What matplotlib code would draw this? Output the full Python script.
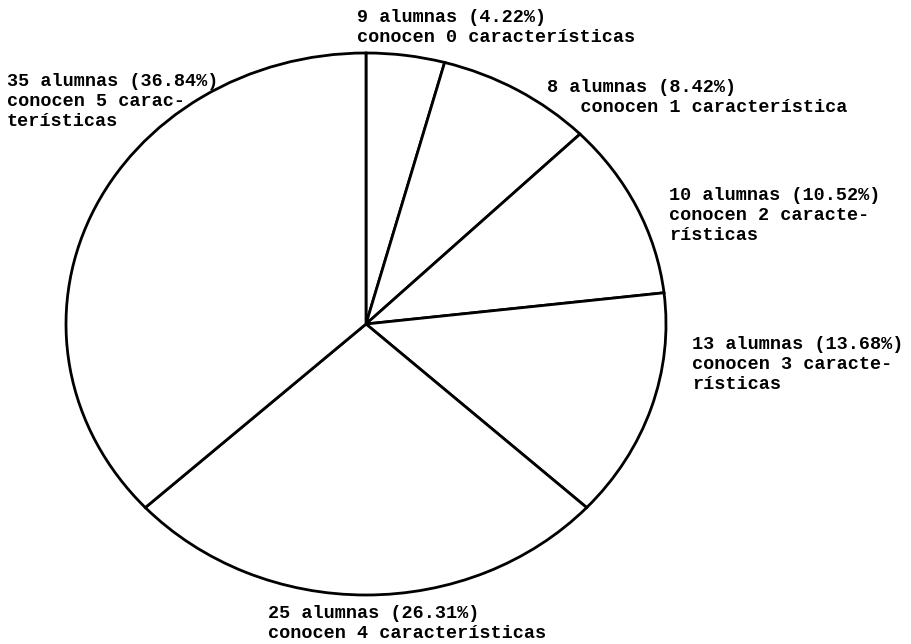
import matplotlib.pyplot as plt

# conocimiento de caracteristicas (0..5)
alumnas = [9, 8, 10, 13, 25, 35]
porcentajes = [4.22, 8.42, 10.52, 13.68, 26.31, 36.84]
etiquetas = [
    "9 alumnas (4.22%)\nconocen 0 características",
    "8 alumnas (8.42%)\n   conocen 1 característica",
    "10 alumnas (10.52%)\nconocen 2 caracte-\nrísticas",
    "13 alumnas (13.68%)\nconocen 3 caracte-\nrísticas",
    "25 alumnas (26.31%)\nconocen 4 características",
    "35 alumnas (36.84%)\nconocen 5 carac-\nterísticas",
]
# esquina superior izquierda de cada etiqueta (px)
pos_etiquetas = [(357, 9), (547, 79), (669, 187), (692, 336), (268, 605), (7, 73)]

W, H = 912, 644
fig = plt.figure(figsize=(W / 100, H / 100), dpi=100)

cx, cy, rx, ry = 366, 324, 300, 271
ax = fig.add_axes([(cx - rx) / W, (H - cy - ry) / H, 2 * rx / W, 2 * ry / H])
ax.pie(porcentajes, startangle=90, counterclock=False, radius=1,
       colors=['white'] * len(porcentajes),
       wedgeprops=dict(edgecolor='black', linewidth=2.0))
ax.set_xlim(-1, 1)
ax.set_ylim(-1, 1)
ax.set_aspect('auto')
ax.axis('off')

for txt, (x, y) in zip(etiquetas, pos_etiquetas):
    fig.text(x / W, 1 - y / H, txt, ha='left', va='top',
             family=['Liberation Mono', 'DejaVu Sans Mono'], weight='bold',
             fontsize=13.3, linespacing=1.22)

fig.savefig('out.png', dpi=100, facecolor='white')
